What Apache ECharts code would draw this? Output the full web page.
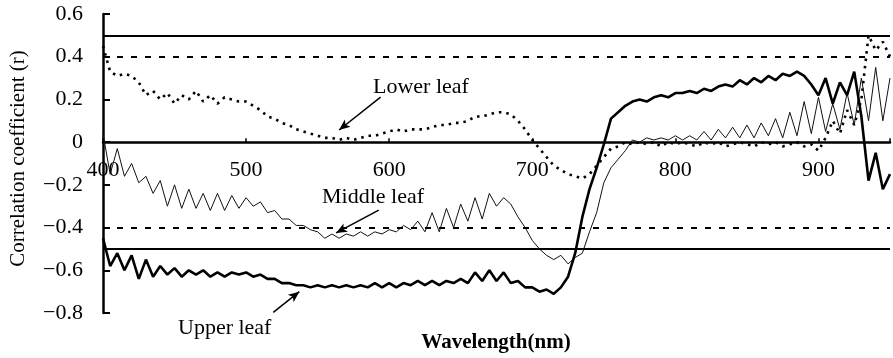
<!DOCTYPE html>
<html>
<head>
<meta charset="utf-8">
<script src="https://cdn.jsdelivr.net/npm/echarts@6/dist/echarts.min.js"></script>
<style>
  html, body { margin: 0; padding: 0; background: #fff; }
  #chart { width: 893px; height: 358px; }
</style>
</head>
<body>
<div id="chart"></div>
<script>
// wavelength grid (nm), 5 nm step, 400..950
const wavelengths = [];
for (let w = 400; w <= 950; w += 5) wavelengths.push(w);

// correlation coefficients
const upperLeaf = [
  -0.45, -0.58, -0.52, -0.60, -0.53, -0.64, -0.55, -0.63, -0.58, -0.62,
  -0.59, -0.63, -0.60, -0.62, -0.60, -0.63, -0.61, -0.63, -0.61, -0.62,
  -0.61, -0.63, -0.62, -0.64, -0.64, -0.66, -0.66, -0.67, -0.67, -0.68,
  -0.67, -0.68, -0.67, -0.68, -0.67, -0.68, -0.67, -0.68, -0.66, -0.68,
  -0.66, -0.68, -0.66, -0.67, -0.65, -0.67, -0.65, -0.67, -0.65, -0.66,
  -0.64, -0.66, -0.61, -0.65, -0.60, -0.65, -0.61, -0.66, -0.65, -0.68,
  -0.68, -0.70, -0.69, -0.71, -0.68, -0.63, -0.52, -0.35, -0.22, -0.12,
  -0.01, 0.11, 0.14, 0.17, 0.19, 0.20, 0.19, 0.21, 0.22, 0.21,
  0.23, 0.23, 0.24, 0.23, 0.25, 0.24, 0.26, 0.27, 0.26, 0.29,
  0.27, 0.30, 0.28, 0.31, 0.29, 0.32, 0.31, 0.33, 0.31, 0.27,
  0.22, 0.30, 0.18, 0.28, 0.22, 0.33, 0.12, -0.18, -0.05, -0.22,
  -0.15
];
const middleLeaf = [
  0.04, -0.15, -0.03, -0.16, -0.10, -0.19, -0.16, -0.24, -0.18, -0.30,
  -0.20, -0.31, -0.22, -0.31, -0.24, -0.32, -0.24, -0.32, -0.25, -0.31,
  -0.26, -0.30, -0.28, -0.33, -0.32, -0.36, -0.36, -0.39, -0.39, -0.41,
  -0.42, -0.45, -0.43, -0.45, -0.43, -0.44, -0.42, -0.44, -0.42, -0.43,
  -0.41, -0.42, -0.39, -0.41, -0.37, -0.42, -0.33, -0.42, -0.31, -0.40,
  -0.29, -0.37, -0.26, -0.36, -0.24, -0.30, -0.26, -0.29, -0.35, -0.40,
  -0.46, -0.50, -0.53, -0.55, -0.53, -0.57, -0.54, -0.52, -0.42, -0.33,
  -0.19, -0.12, -0.08, -0.04, 0.01, 0.00, 0.02, 0.01, 0.02, 0.01,
  0.03, 0.01, 0.03, 0.01, 0.05, 0.01, 0.06, 0.02, 0.07, 0.02,
  0.08, 0.02, 0.09, 0.03, 0.11, 0.02, 0.14, 0.03, 0.19, 0.04,
  0.21, 0.05, 0.18, 0.06, 0.23, 0.08, 0.30, 0.10, 0.35, 0.10,
  0.30
];
const lowerLeaf = [
  0.45, 0.33, 0.31, 0.32, 0.31, 0.28, 0.22, 0.24, 0.20, 0.23,
  0.18, 0.22, 0.20, 0.24, 0.19, 0.22, 0.18, 0.21, 0.20, 0.19,
  0.19, 0.17, 0.15, 0.12, 0.11, 0.09, 0.08, 0.06, 0.05, 0.04,
  0.03, 0.02, 0.02, 0.01, 0.02, 0.01, 0.02, 0.03, 0.03, 0.04,
  0.05, 0.06, 0.05, 0.06, 0.06, 0.06, 0.07, 0.08, 0.08, 0.09,
  0.09, 0.10, 0.12, 0.12, 0.13, 0.14, 0.14, 0.13, 0.10, 0.06,
  0.01, -0.03, -0.07, -0.11, -0.13, -0.15, -0.16, -0.17, -0.15, -0.11,
  -0.07, -0.03, -0.02, 0.00, -0.01, 0.00, -0.01, 0.00, -0.02, 0.00,
  -0.01, 0.00, -0.01, -0.02, 0.00, -0.01, 0.00, -0.02, -0.01, 0.00,
  -0.01, -0.02, 0.00, -0.01, 0.00, -0.02, -0.01, 0.00, -0.02, -0.01,
  -0.04, 0.02, 0.10, 0.04, 0.15, 0.08, 0.20, 0.50, 0.43, 0.47,
  0.40
];

const xTicks = [400, 500, 600, 700, 800, 900];
const yTicks = [-0.8, -0.6, -0.4, -0.2, 0, 0.2, 0.4, 0.6];
const solidRefs = [0.5, -0.5];
const dashedRefs = [0.4, -0.4];

const serif = "'Liberation Serif', 'Times New Roman', serif";
const pairs = vals => wavelengths.map((w, i) => [w, vals[i]]);

const arrow = (from, to) => [
  { coord: from, symbol: 'none' },
  { coord: to, symbol: 'arrow', symbolSize: [7, 11] },
];

// grid geometry: x axis sits on r = 0
const gridTop = 14, gridBottom = 45, chartH = 358;
const plotH = chartH - gridTop - gridBottom;
const zeroOffset = -plotH * 0.8 / 1.4;

const chart = echarts.init(document.getElementById('chart'));
chart.setOption({
  animation: false,
  grid: { left: 100, right: 0, top: gridTop, bottom: gridBottom },
  xAxis: {
    type: 'value',
    min: 400,
    max: 950,
    interval: 100,
    offset: zeroOffset,
    axisLine: { onZero: false, lineStyle: { color: '#000', width: 2.5 } },
    axisTick: { inside: true, length: 4, lineStyle: { color: '#000', width: 1.5 } },
    axisLabel: {
      margin: 17,
      color: '#000',
      fontFamily: serif,
      fontSize: 22,
      formatter: v => (xTicks.includes(v) ? String(v) : ''),
    },
    splitLine: { show: false },
  },
  yAxis: {
    type: 'value',
    min: -0.8,
    max: 0.6,
    interval: 0.2,
    name: 'Correlation coefficient (r)',
    nameLocation: 'middle',
    nameGap: 74,
    nameTextStyle: { color: '#000', fontFamily: serif, fontSize: 21, padding: [0, 0, 0, 10] },
    axisLine: { show: true, lineStyle: { color: '#000', width: 2.5 } },
    axisTick: { show: true, inside: true, length: 7, lineStyle: { color: '#000', width: 2 } },
    axisLabel: {
      margin: 20,
      color: '#000',
      fontFamily: serif,
      fontSize: 22,
      formatter: v => {
        const r = Math.round(v * 10) / 10;
        if (!yTicks.includes(r)) return '';
        if (r === 0) return '0';
        return (r < 0 ? '\u2212' : '') + Math.abs(r).toFixed(1);
      },
    },
    splitLine: { show: false },
  },
  series: [
    {
      name: 'Lower leaf',
      type: 'line',
      data: pairs(lowerLeaf),
      symbol: 'none',
      lineStyle: { color: '#000', width: 2.6, type: [2.5, 5] },
      markLine: {
        silent: true,
        symbol: 'none',
        label: { show: false },
        lineStyle: { color: '#000', width: 1.5, type: 'solid' },
        data: [arrow([594, 0.211], [565, 0.057])],
      },
      z: 3,
    },
    {
      name: 'Middle leaf',
      type: 'line',
      data: pairs(middleLeaf),
      symbol: 'none',
      lineStyle: { color: '#111', width: 1 },
      markLine: {
        silent: true,
        symbol: 'none',
        label: { show: false },
        lineStyle: { color: '#000', width: 1.5, type: 'solid' },
        data: [arrow([592.7, -0.318], [562.9, -0.425])],
      },
      z: 4,
    },
    {
      name: 'Upper leaf',
      type: 'line',
      data: pairs(upperLeaf),
      symbol: 'none',
      lineStyle: { color: '#000', width: 2.6 },
      markLine: {
        silent: true,
        symbol: 'none',
        label: { show: false },
        data: [
          ...solidRefs.map(v => ({ yAxis: v, lineStyle: { color: '#000', width: 2, type: 'solid' } })),
          ...dashedRefs.map(v => ({ yAxis: v, lineStyle: { color: '#000', width: 2, type: [6, 8] } })),
          arrow([519, -0.797], [537.2, -0.70]).map(p => ({ ...p, lineStyle: { color: '#000', width: 1.5, type: 'solid' } })),
        ],
      },
      z: 5,
    },
  ],
  graphic: [
    { type: 'text', x: 373, y: 87, style: { text: 'Lower leaf', fill: '#000', font: `22px ${serif}`, verticalAlign: 'middle' } },
    { type: 'text', x: 322, y: 197, style: { text: 'Middle leaf', fill: '#000', font: `22px ${serif}`, verticalAlign: 'middle' } },
    { type: 'text', x: 178, y: 328, style: { text: 'Upper leaf', fill: '#000', font: `22px ${serif}`, verticalAlign: 'middle' } },
    { type: 'text', x: 496, y: 343, style: { text: 'Wavelength(nm)', fill: '#000', font: `bold 21px ${serif}`, align: 'center', verticalAlign: 'middle' } },
  ],
});
</script>
</body>
</html>
